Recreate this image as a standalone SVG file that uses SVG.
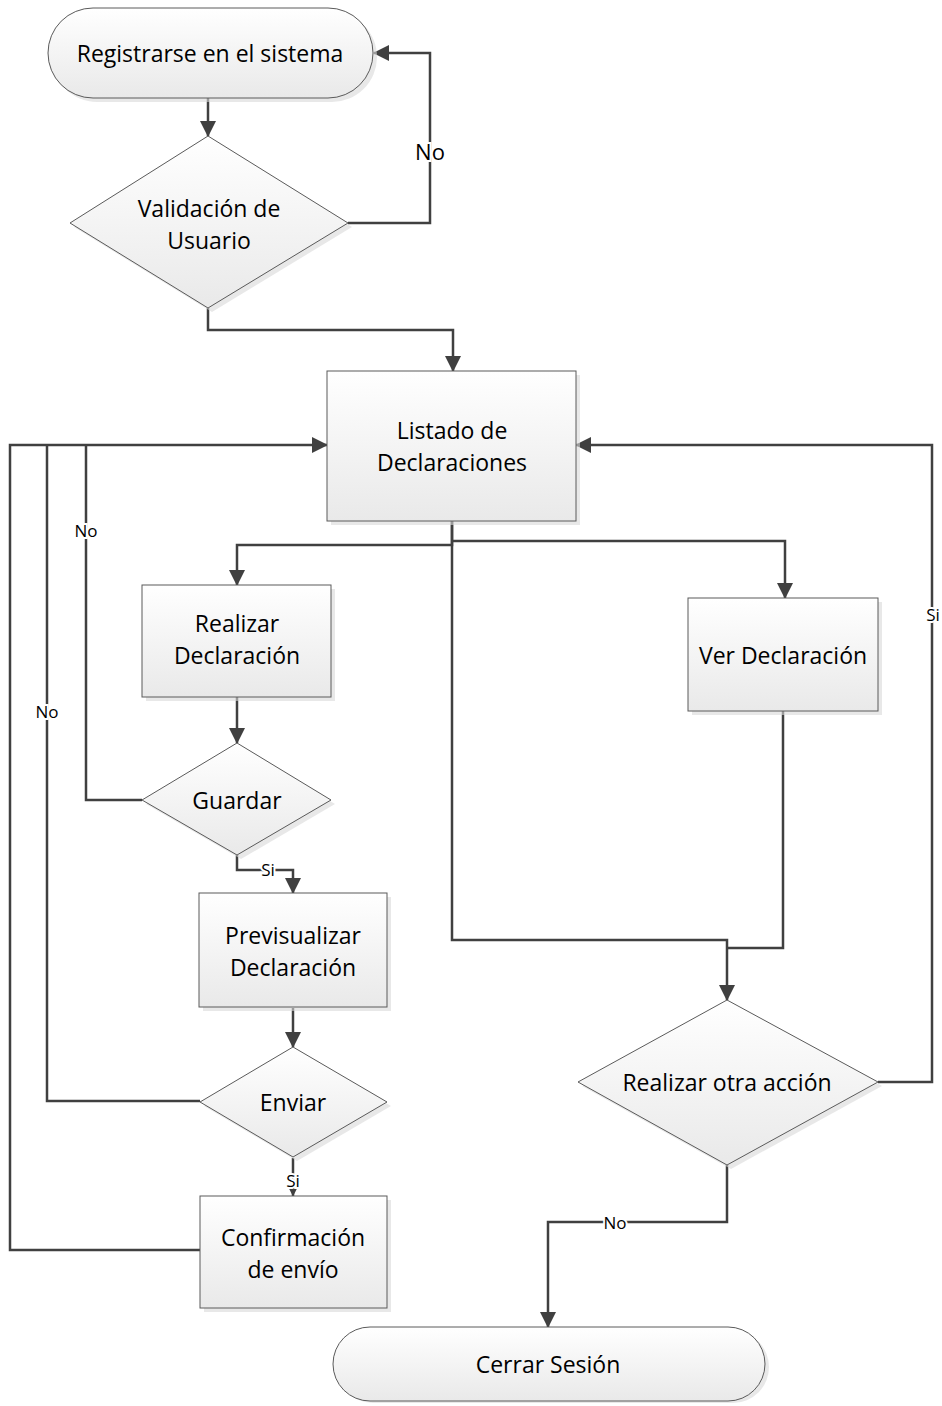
<svg xmlns="http://www.w3.org/2000/svg" width="942" height="1406" viewBox="0 0 942 1406">
<defs>
<linearGradient id="g" x1="0" y1="0" x2="0" y2="1">
<stop offset="0" stop-color="#ffffff"/>
<stop offset="1" stop-color="#e9e9e9"/>
</linearGradient>
<marker id="ah" markerUnits="userSpaceOnUse" markerWidth="16" markerHeight="16" viewBox="0 0 16 16" refX="15" refY="8" orient="auto">
<path d="M0,0 L16,8 L0,16 Z" fill="#404040"/>
</marker>
<marker id="ahs" markerUnits="userSpaceOnUse" markerWidth="8" markerHeight="8" viewBox="0 0 8 8" refX="7.5" refY="4" orient="auto">
<path d="M0,0 L8,4 L0,8 Z" fill="#404040"/>
</marker>
</defs>
<style>
.sh{fill:#d9d9d9;opacity:0.6}
.nd{fill:url(#g);stroke:#5a5a5a;stroke-width:1}
.t{font-family:"Open Sans",Lato,"Liberation Sans",sans-serif;font-size:23px;fill:#000;text-anchor:middle;dominant-baseline:central}
.c{fill:none;stroke:#404040;stroke-width:2.5}
.l{font-family:"Open Sans",Lato,"Liberation Sans",sans-serif;font-size:17px;fill:#000;text-anchor:middle;dominant-baseline:central;stroke:#fff;stroke-width:4;paint-order:stroke}
</style>
<rect width="942" height="1406" fill="#fff"/>
<g id="connectors">
<path class="c" d="M208,98 V136" marker-end="url(#ah)"/>
<path class="c" d="M348,223 H430 V53 H374" marker-end="url(#ah)"/>
<path class="c" d="M208,308 V330 H453 V371" marker-end="url(#ah)"/>
<path class="c" d="M452,521 V545 H237 V585" marker-end="url(#ah)"/>
<path class="c" d="M452,541 H785 V598" marker-end="url(#ah)"/>
<path class="c" d="M452,521 V940 H727 V1000" marker-end="url(#ah)"/>
<path class="c" d="M783,711 V948 H727"/>
<path class="c" d="M237,697 V743" marker-end="url(#ah)"/>
<path class="c" d="M142,800 H86 V445"/>
<path class="c" d="M237,855 V870 H293 V893" marker-end="url(#ah)"/>
<path class="c" d="M293,1008 V1047" marker-end="url(#ah)"/>
<path class="c" d="M200,1101 H47 V445"/>
<path class="c" d="M293,1158 V1196" marker-end="url(#ahs)"/>
<path class="c" d="M200,1250 H10 V445 H327" marker-end="url(#ah)"/>
<path class="c" d="M878,1082 H932 V445 H576" marker-end="url(#ah)"/>
<path class="c" d="M727,1165 V1222 H548 V1327" marker-end="url(#ah)"/>
<text class="l" x="430" y="151" style="font-size:22px">No</text>
<text class="l" x="86" y="530">No</text>
<text class="l" x="47" y="711">No</text>
<text class="l" x="268" y="869">Si</text>
<text class="l" x="293" y="1180">Si</text>
<text class="l" x="933" y="614">Si</text>
<text class="l" x="615" y="1222">No</text>
</g>
<g id="n1">
<rect class="sh" x="52" y="12" width="325" height="90" rx="45"/>
<rect class="nd" x="48" y="8" width="325" height="90" rx="45"/>
<text class="t" x="210" y="53">Registrarse en el sistema</text>
</g>
<g id="n2">
<polygon class="sh" points="212,140 352,227 212,312 74,227"/>
<polygon class="nd" points="208,136 348,223 208,308 70,223"/>
<text class="t" x="209" y="208">Validación de</text>
<text class="t" x="209" y="240">Usuario</text>
</g>
<g id="n3">
<rect class="sh" x="331" y="375" width="249" height="150"/>
<rect class="nd" x="327" y="371" width="249" height="150"/>
<text class="t" x="452" y="430">Listado de</text>
<text class="t" x="452" y="462">Declaraciones</text>
</g>
<g id="n4">
<rect class="sh" x="146" y="589" width="189" height="112"/>
<rect class="nd" x="142" y="585" width="189" height="112"/>
<text class="t" x="237" y="623">Realizar</text>
<text class="t" x="237" y="655">Declaración</text>
</g>
<g id="n5">
<polygon class="sh" points="241,747 335,804 241,859 146,804"/>
<polygon class="nd" points="237,743 331,800 237,855 142,800"/>
<text class="t" x="237" y="800">Guardar</text>
</g>
<g id="n6">
<rect class="sh" x="203" y="897" width="188" height="114"/>
<rect class="nd" x="199" y="893" width="188" height="114"/>
<text class="t" x="293" y="935">Previsualizar</text>
<text class="t" x="293" y="967">Declaración</text>
</g>
<g id="n7">
<polygon class="sh" points="297,1051 391,1106 297,1161 204,1106"/>
<polygon class="nd" points="293,1047 387,1102 293,1157 200,1102"/>
<text class="t" x="293" y="1102">Enviar</text>
</g>
<g id="n8">
<rect class="sh" x="204" y="1200" width="187" height="112"/>
<rect class="nd" x="200" y="1196" width="187" height="112"/>
<text class="t" x="293" y="1237">Confirmación</text>
<text class="t" x="293" y="1269">de envío</text>
</g>
<g id="n9">
<rect class="sh" x="692" y="602" width="190" height="113"/>
<rect class="nd" x="688" y="598" width="190" height="113"/>
<text class="t" x="783" y="655">Ver Declaración</text>
</g>
<g id="n10">
<polygon class="sh" points="731,1004 882,1086 731,1169 582,1086"/>
<polygon class="nd" points="727,1000 878,1082 727,1165 578,1082"/>
<text class="t" x="727" y="1082">Realizar otra acción</text>
</g>
<g id="n11">
<rect class="sh" x="337" y="1331" width="432" height="72" rx="36"/>
<rect class="nd" x="333" y="1327" width="432" height="74" rx="37"/>
<text class="t" x="548" y="1364">Cerrar Sesión</text>
</g>
</svg>
